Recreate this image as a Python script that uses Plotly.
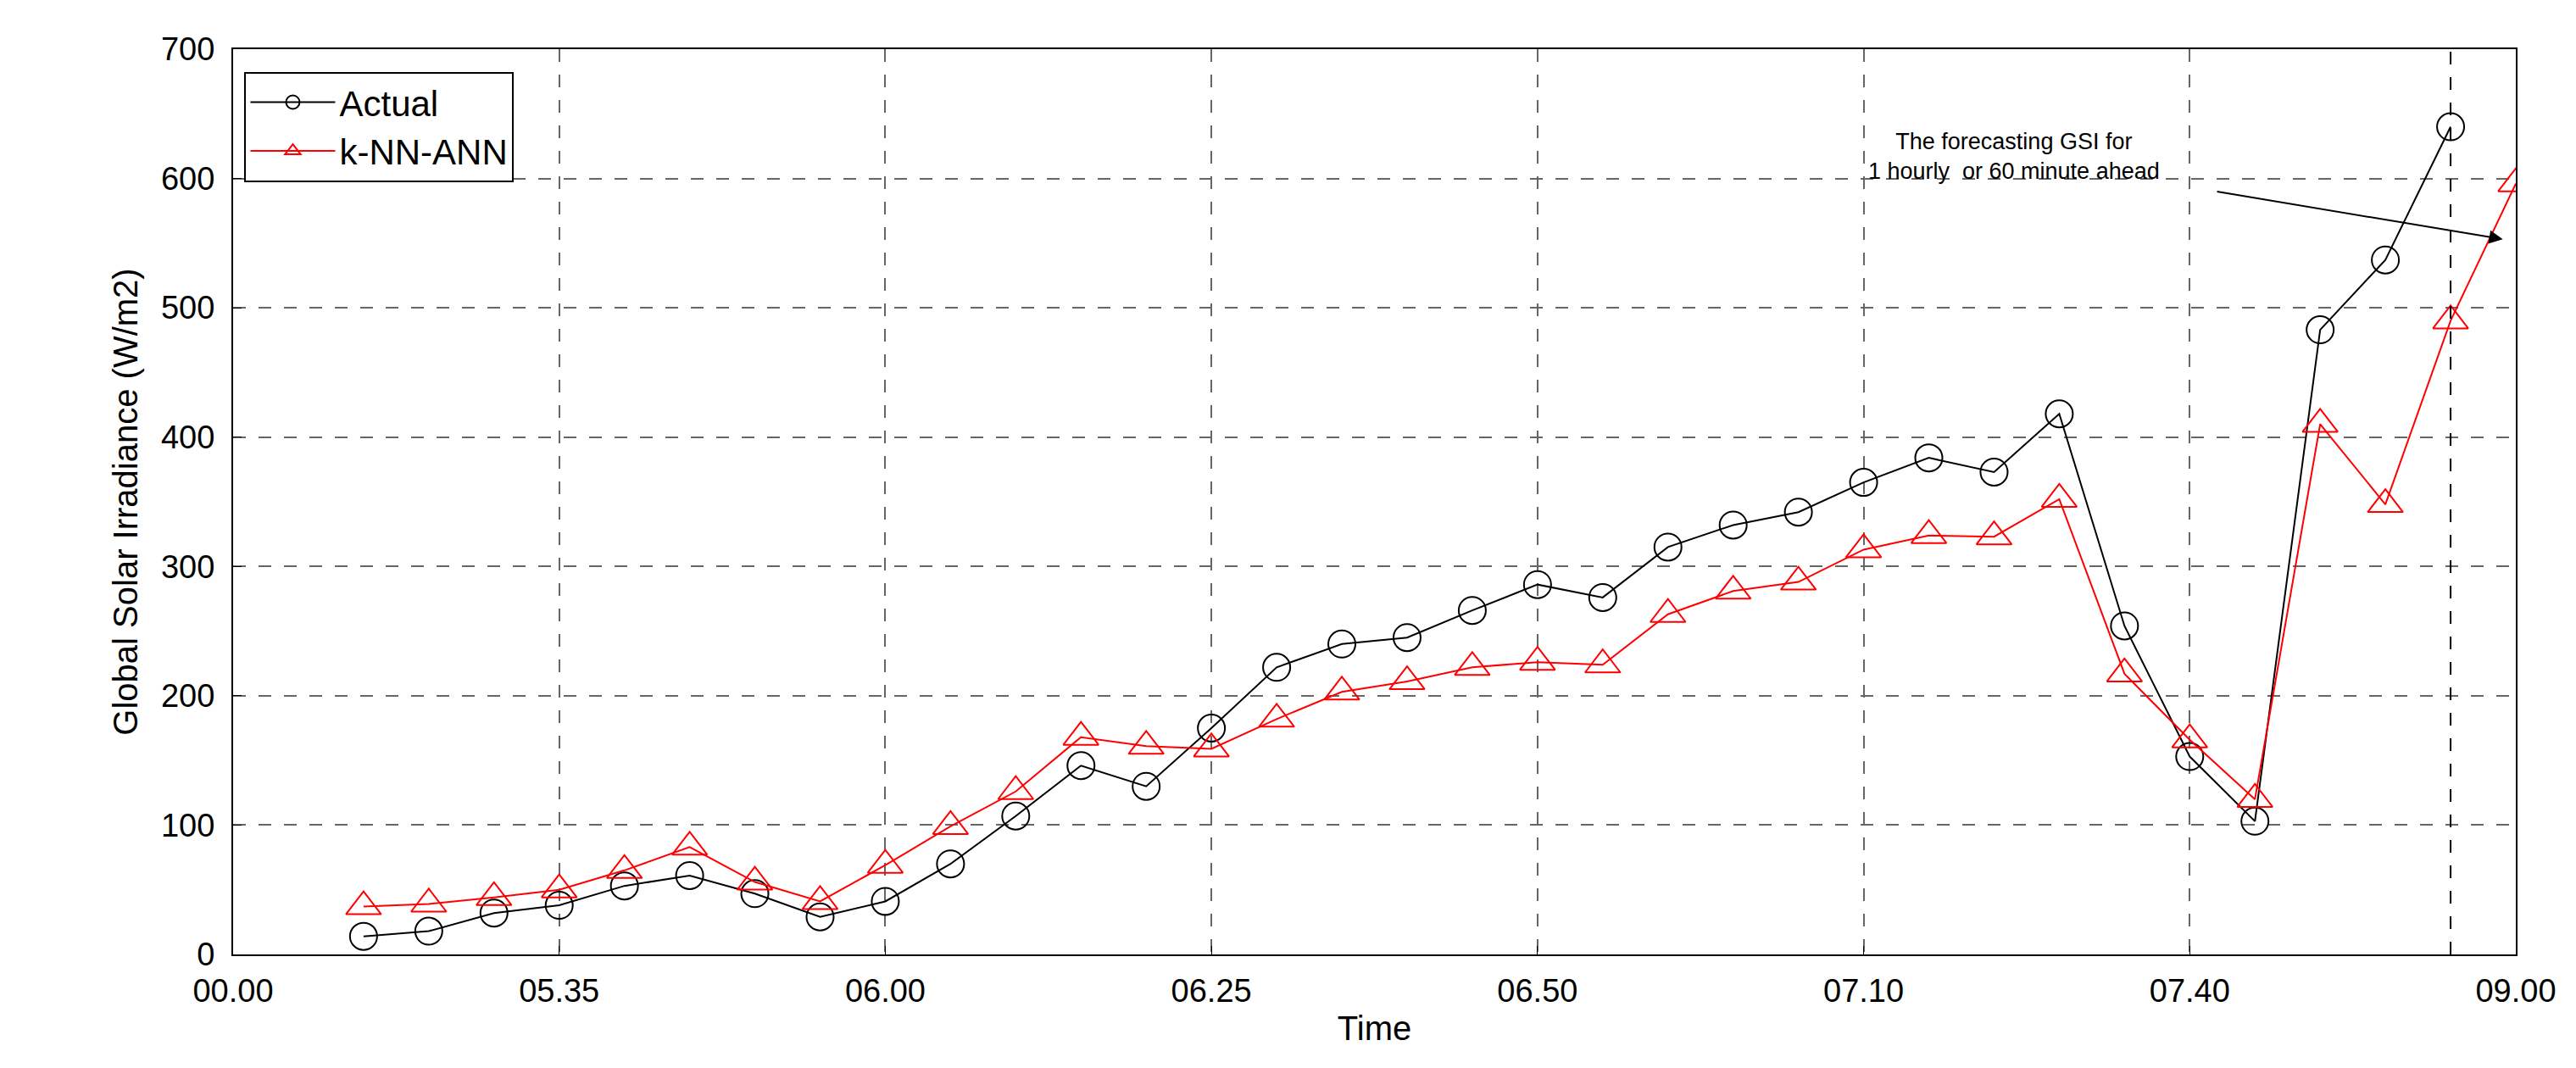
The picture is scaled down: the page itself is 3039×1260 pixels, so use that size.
import plotly.graph_objects as go

tick_labels = ["00.00", "05.35", "06.00", "06.25", "06.50", "07.10", "07.40", "09.00"]
actual_x = list(range(2, 35))
actual = [14, 18, 32, 38, 53, 61, 47, 29, 41, 70, 107, 146, 130, 175, 222, 240, 245, 266, 286, 276,
          315, 332, 342, 365, 384, 373, 418, 254, 153, 103, 483, 537, 640]
knn_x = list(range(2, 36))
knn = [37, 39, 44, 50, 65, 83, 56, 41, 69, 99, 126, 168, 161, 159, 182, 203, 211, 222, 226, 224,
       263, 281, 288, 313, 324, 323, 352, 217, 166, 120, 410, 348, 490, 596]

fig = go.Figure()
fig.add_trace(go.Scatter(x=actual_x, y=actual, name="Actual", mode="lines+markers",
                         line=dict(color="black", width=2),
                         marker=dict(symbol="circle-open", size=32, color="black", line=dict(width=2))))
fig.add_trace(go.Scatter(x=knn_x, y=knn, name="k-NN-ANN", mode="lines+markers",
                         line=dict(color="red", width=2),
                         marker=dict(symbol="triangle-up-open", size=36, color="red", line=dict(width=2))))
fig.add_shape(type="line", x0=34, x1=34, y0=0, y1=700, line=dict(color="black", width=2, dash="longdash"))
fig.add_annotation(x=34.8, y=553, ax=30.4, ay=590, axref="x", ayref="y", xref="x", yref="y",
                   text="", showarrow=True, arrowhead=2, arrowsize=1.6, arrowwidth=2, arrowcolor="black")
fig.add_annotation(x=27.3, y=617, text="The forecasting GSI for<br>1 hourly  or 60 minute ahead",
                   showarrow=False, font=dict(size=27, family="Liberation Sans", color="black"), align="center")

axis_common = dict(showline=True, linecolor="black", linewidth=2, mirror=True, ticks="inside",
                   ticklen=10, tickcolor="black", showgrid=True, gridcolor="#666",
                   griddash="longdash", gridwidth=2, zeroline=False,
                   tickfont=dict(size=38, family="Liberation Sans", color="black"))
fig.update_xaxes(range=[0, 35], tickvals=[0, 5, 10, 15, 20, 25, 30, 35], ticktext=tick_labels,
                 ticklabelstandoff=8,
                 title=dict(text="Time", font=dict(size=40, family="Liberation Sans", color="black"), standoff=10),
                 **axis_common)
fig.update_yaxes(range=[0, 700], dtick=100, ticklabelstandoff=12,
                 title=dict(text="Global Solar Irradiance (W/m2)", font=dict(size=40, family="Liberation Sans", color="black")),
                 **axis_common)
fig.update_layout(width=3039, height=1260, plot_bgcolor="white", paper_bgcolor="white",
                  margin=dict(l=267, r=79, t=50, b=142),
                  legend=dict(x=0.005, y=0.975, xanchor="left", yanchor="top", bgcolor="white",
                              bordercolor="black", borderwidth=2,
                              font=dict(size=42, family="Liberation Sans", color="black"),
                              itemwidth=100))
fig.write_html("out.html")
